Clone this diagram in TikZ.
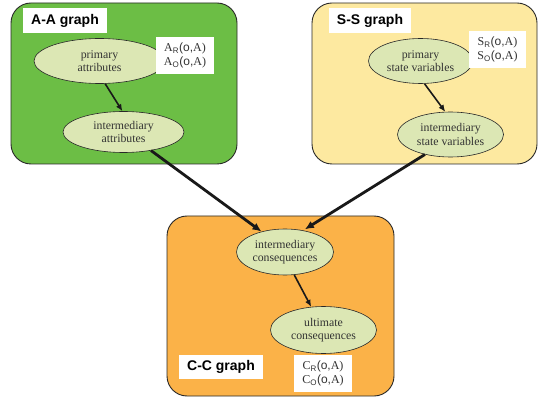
\documentclass[tikz,border=0pt]{standalone}
\usepackage{fontspec}
\setmainfont{Liberation Serif}
\setsansfont{Liberation Sans}
\usetikzlibrary{shapes.geometric,arrows.meta}
\definecolor{ggreen}{RGB}{108,190,69}
\definecolor{gyellow}{RGB}{253,233,160}
\definecolor{gorange}{RGB}{251,178,72}
\definecolor{ellfill}{RGB}{220,231,180}
\definecolor{edge}{RGB}{40,40,40}
\tikzset{
  panel/.style={draw=edge, line width=0.9pt, rounded corners=20pt, inner sep=0pt},
  ell/.style={ellipse, draw=edge, line width=0.6pt, fill=ellfill, inner sep=0pt,
    align=center, font=\fontsize{11.8}{13.5}\selectfont, text=black!80},
  title/.style={fill=white, inner sep=0pt, font=\sffamily\bfseries\fontsize{14}{16}\selectfont},
  sub/.style={fill=white, inner sep=0pt, align=center, font=\fontsize{12}{14.5}\selectfont, text=black!80},
  arr/.style={draw=black!90, line width=1.6pt, -{Latex[length=7pt,width=6pt]}},
  bigarr/.style={draw=black!90, line width=2.8pt, -{Latex[length=9pt,width=8pt]}}
}
\newcommand{\lbl}[2]{#1\textsubscript{\sffamily #2}\textsf{(o,}A)}
\begin{document}
\begin{tikzpicture}[x=1pt,y=-1pt]
\useasboundingbox (0,0) rectangle (540,403);
% panels
\node[panel, fill=ggreen, minimum width=226pt, minimum height=161pt] (aa) at (124,83.5) {};
\node[panel, fill=gyellow, minimum width=225pt, minimum height=161pt] (ss) at (424.5,83.5) {};
\node[panel, fill=gorange, minimum width=227pt, minimum height=180pt] (cc) at (280.5,306) {};
% titles
\node[title, minimum width=84pt, minimum height=25pt] (aat) at (65,20.5) {A-A graph};
\node[title, minimum width=82pt, minimum height=25pt] (sst) at (370,20.5) {S-S graph};
\node[title, minimum width=84pt, minimum height=24pt] (cct) at (221,367) {C-C graph};
% ellipses
\node[ell, minimum width=131pt, minimum height=45pt] (pa) at (99.5,61) {primary\\attributes};
\node[ell, minimum width=121pt, minimum height=41pt] (ia) at (123.5,132) {intermediary\\attributes};
\node[ell, minimum width=104pt, minimum height=45pt] (psv) at (420.5,61) {primary\\state variables};
\node[ell, minimum width=106pt, minimum height=45pt] (isv) at (450.5,134.5) {intermediary\\state variables};
\node[ell, minimum width=97pt, minimum height=46pt] (ic) at (285,252) {intermediary\\consequences};
\node[ell, minimum width=106pt, minimum height=47pt] (uc) at (323.5,330) {ultimate\\consequences};
% sub labels
\node[sub, minimum width=58pt, minimum height=37pt] (al) at (185,55.5) {\lbl{A}{R}\\\lbl{A}{O}};
\node[sub, minimum width=57pt, minimum height=37pt] (sl) at (497.5,49.5) {\lbl{S}{R}\\\lbl{S}{O}};
\node[sub, minimum width=58pt, minimum height=37pt] (cl) at (323,373.5) {\lbl{C}{R}\\\lbl{C}{O}};
% arrows
\draw[arr] (pa.284) -- (ia.93);
\draw[arr] (psv.280) -- (isv.103);
\draw[arr] (ic.292) -- (uc.118);
\draw[bigarr] (ia.326) -- (ic.139);
\draw[bigarr, shorten >=2pt] (isv.218) -- (ic.50);
\end{tikzpicture}
\end{document}
